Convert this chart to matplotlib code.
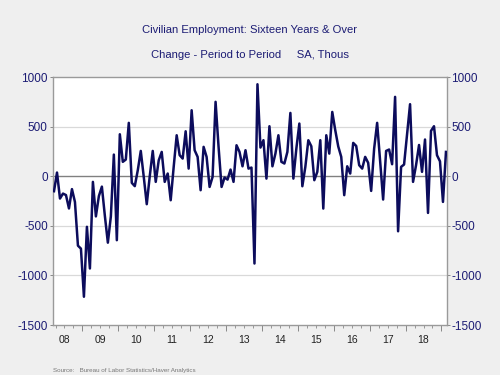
import numpy as np
import matplotlib
matplotlib.use("Agg")
import matplotlib.pyplot as plt
import matplotlib.transforms as mtransforms

plt.rcParams['font.family'] = ['Liberation Sans', 'DejaVu Sans']

# monthly change, thousands, starting Mar 2008
start_year = 2008
start_month = 3
emp_change = [
    -151, 37, -225, -175, -190, -325, -130, -260, -700, -730,
    -1215, -510, -930, -57, -405, -200, -105, -400, -670, -405,
    218, -645, 423, 145, 168, 538, -67, -100, 60, 255,
    -7, -282, 0, 255, -57, 160, 245, -57, 27, -242,
    94, 413, 212, 178, 453, 77, 665, 262, 195, -141,
    296, 195, -108, -7, 750, 296, -108, -13, -34, 67,
    -57, 312, 245, 100, 262, 77, 87, -880, 927, 289,
    363, -24, 504, 100, 228, 413, 145, 128, 245, 638,
    -24, 279, 531, -101, 94, 363, 302, -40, 44, 363,
    -326, 413, 228, 648, 464, 300, 195, -191, 100, 27,
    336, 305, 111, 77, 195, 135, -148, 279, 538, 150,
    -235, 255, 269, 121, 800, -555, 94, 118, 420, 726,
    -57, 111, 315, 44, 370, -370, 457, 504, 212, 150,
    -259, 245,
]
year_labels = ['08', '09', '10', '11', '12', '13', '14', '15', '16', '17', '18']
y_ticks = [-1500, -1000, -500, 0, 500, 1000]

navy = '#1c1c74'

n = len(emp_change)
x = start_year + (start_month - 1 + np.arange(n) + 0.5) / 12.0

fig = plt.figure(figsize=(5, 3.75), dpi=100, facecolor='#efefef')
ax = fig.add_axes([0.1054, 0.1333, 0.7876, 0.6613])
ax.set_facecolor('white')

for v in [500, -500, -1000]:
    ax.axhline(v, color='#d9d9d9', lw=0.9, zorder=1)
ax.axhline(0, color='#808080', lw=1.0, zorder=2)

ax.plot(x, emp_change, color='#0c0c5c', lw=1.8, zorder=3)

ax.set_xlim(2008.172, 2019.14)
ax.set_ylim(-1500, 1000)
ax.set_yticks(y_ticks)
ax.set_yticklabels([str(v) for v in y_ticks])
ax.tick_params(axis='y', which='both', left=True, right=True, labelleft=True,
               labelright=True, length=2, width=0.7, pad=1.5,
               labelsize=8.5, labelcolor=navy, color='#888888')

years = np.arange(2009, 2020)
ax.set_xticks(years)
ax.set_xticklabels([])
quarters = np.arange(2008.25, 2019.1, 0.25)
ax.set_xticks(quarters, minor=True)
ax.tick_params(axis='x', which='major', length=4, width=0.7, color='#888888')
ax.tick_params(axis='x', which='minor', length=2, width=0.6, color='#888888')

trans = mtransforms.blended_transform_factory(ax.transData, ax.transAxes)
for i, lab in enumerate(year_labels):
    ax.text(2008.5 + i, -0.06, lab, transform=trans, ha='center', va='center',
            fontsize=7.5, color='#222222')

for s in ax.spines.values():
    s.set_color('#9a9a9a')
    s.set_linewidth(1.0)

fig.text(0.5, 0.92, 'Civilian Employment: Sixteen Years & Over', ha='center',
         va='center', fontsize=8.1, color=navy)
fig.text(0.5, 0.853, 'Change - Period to Period     SA, Thous', ha='center',
         va='center', fontsize=8.1, color=navy)
fig.text(0.106, 0.006, 'Source:   Bureau of Labor Statistics/Haver Analytics',
         ha='left', va='bottom', fontsize=4.5, color='#777777')

fig.savefig('out.png', dpi=100, facecolor=fig.get_facecolor())
